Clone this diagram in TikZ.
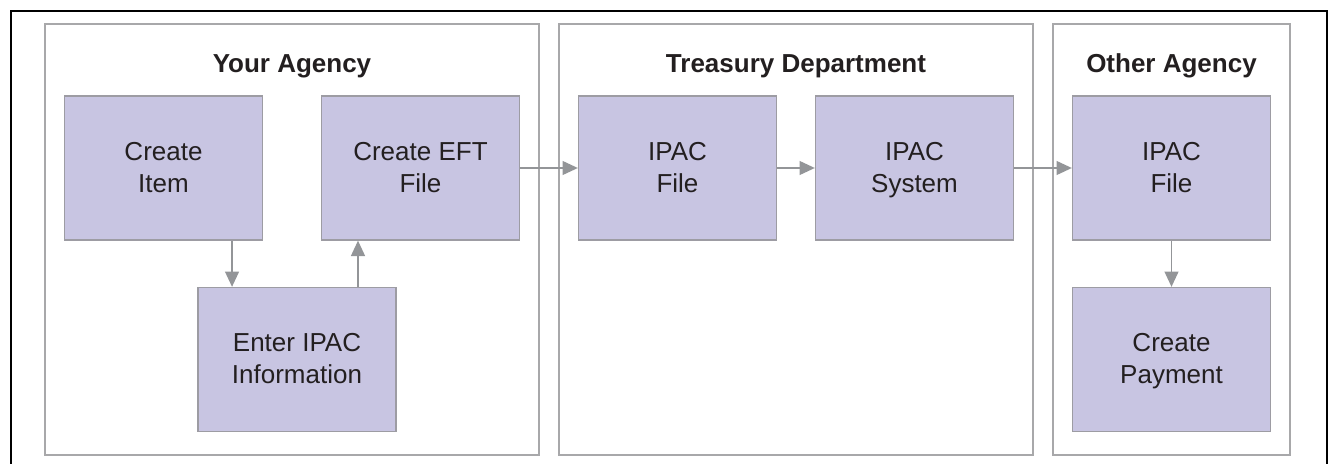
\documentclass[tikz,border=0pt]{standalone}
\usepackage{fontspec}
\setmainfont{Liberation Sans}
\usetikzlibrary{arrows.meta}
\definecolor{boxfill}{HTML}{C8C5E2}
\definecolor{boxline}{HTML}{9D9CA3}
\definecolor{panelline}{HTML}{A8A8AA}
\definecolor{arrowgray}{HTML}{939598}
\definecolor{inktext}{HTML}{231F20}
% two lines with fixed height and depth
\newcommand\steplines[2]{\rule{0pt}{16.8pt}#1\\#2\rule[-4.8pt]{0pt}{4.8pt}}
\begin{document}
\begin{tikzpicture}[x=0.75pt,y=-0.75pt,
  every node/.style={font=\fontsize{19.5}{24}\selectfont, text=inktext},
  stepbox/.style={draw=boxline, line width=1pt, fill=boxfill, align=center,
    minimum width=148.5pt, minimum height=108pt, inner sep=0pt},
  panel/.style={draw=panelline, line width=0.9pt},
  paneltitle/.style={anchor=base, font=\fontsize{19.5}{24}\selectfont\bfseries},
  flow/.style={draw=arrowgray, line width=1pt, -{Triangle[length=11.5pt,width=10.5pt]}}]
\useasboundingbox (0,0) rectangle (1329,464);
\clip (0,0) rectangle (1329,464);
\draw[line width=1.5pt] (11,11) rectangle (1327,490);
% lanes
\draw[panel] (45,24) rectangle (539,455);
\draw[panel] (559,24) rectangle (1033,455);
\draw[panel] (1053,24) rectangle (1290,455);
\node[paneltitle] (yours) at (292,72) {Your Agency};
\node[paneltitle] (treasury) at (796,72) {Treasury Department};
\node[paneltitle] (other) at (1171.5,72) {Other Agency};
% steps
\node[stepbox] (item) at (163.5,168) {\steplines{Create}{Item}};
\node[stepbox] (eft) at (420.5,168) {\steplines{Create EFT}{File}};
\node[stepbox] (enter) at (297,359.5) {\steplines{Enter IPAC}{Information}};
\node[stepbox] (tfile) at (677.5,168) {\steplines{IPAC}{File}};
\node[stepbox] (tsys) at (914.5,168) {\steplines{IPAC}{System}};
\node[stepbox] (ofile) at (1171.5,168) {\steplines{IPAC}{File}};
\node[stepbox] (pay) at (1171.5,359.5) {\steplines{Create}{Payment}};
% flows
\draw[flow] ([xshift=51.4pt]item.south) -- ([xshift=51.4pt]item.south |- enter.north);
\draw[flow] ([xshift=45.75pt]enter.north) -- ([xshift=45.75pt]enter.north |- eft.south);
\draw[flow] (eft.east) -- (tfile.west);
\draw[flow] (tfile.east) -- (tsys.west);
\draw[flow] (tsys.east) -- (ofile.west);
\draw[flow] (ofile.south) -- (pay.north);
\end{tikzpicture}
\end{document}
